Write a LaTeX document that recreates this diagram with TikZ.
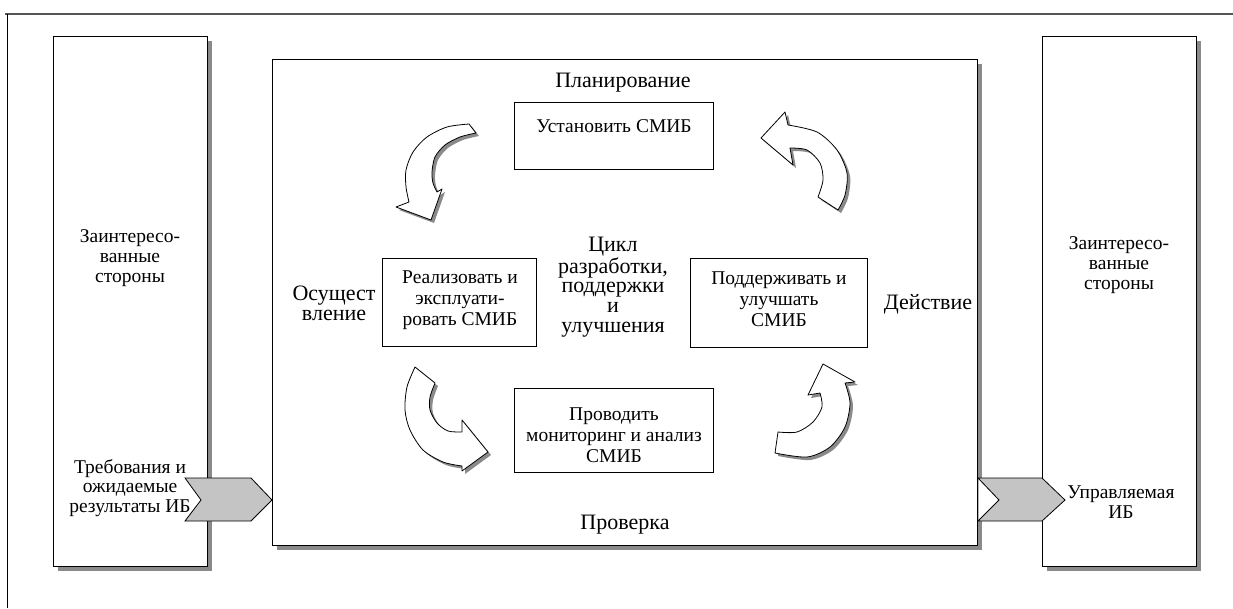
\documentclass[tikz,border=0pt]{standalone}
\usepackage{fontspec}
\setmainfont{Liberation Serif}
\usetikzlibrary{shadows}
\definecolor{shad}{HTML}{8A8A8A}
\definecolor{chev}{HTML}{C4C4C4}
\definecolor{framec}{HTML}{555555}
\newcommand\arrTL[1]{\path[#1] plot[smooth] coordinates {(469,124) (447,127) (427,137) (413,152) (406,170) (406,187) (409,202)} -- (396,207) -- (431,220) -- (442,189) -- (437,192) -- plot[smooth] coordinates {(437,192) (433,183) (432,172) (435,157) (445,145) (460,137) (476,133)} -- cycle;}
\newcommand\arrBL[1]{\path[#1] plot[smooth] coordinates {(415,367) (407,387) (405,410) (410,430) (423,450) (443,462) (462,466)} -- (462,471) -- (488,452) -- (462,420) -- (462,432) -- plot[smooth] coordinates {(462,432) (448,431) (437,423) (430,410) (430,397) (435,383)} -- cycle;}
\newcommand\arrBR[1]{\path[#1] plot[smooth] coordinates {(845,383) (850,403) (845,427) (830,447) (807,457) (775,453)} -- (778,432) -- plot[smooth] coordinates {(778,432) (797,432) (813,422) (822,407) (820,393)} -- (808,395) -- (823,364) -- (855,382) -- cycle;}
\newcommand\arrTR[1]{\path[#1] (761,138) -- (785,112) -- (788,125) -- plot[smooth] coordinates {(788,125) (817,132) (837,150) (847,173) (845,195) (838,210)} -- (818,197) -- plot[smooth] coordinates {(818,197) (823,180) (820,163) (807,150) (790,148)} -- (793,165) -- cycle;}
\begin{document}
\begin{tikzpicture}[x=1pt,y=-1pt,
  every node/.style={inner sep=0pt, outer sep=0pt},
  boxtxt/.style={align=center, font=\fontsize{19.5}{21}\selectfont},
  sidetxt/.style={align=center, font=\fontsize{19.5}{19.7}\selectfont},
  phase/.style={align=center, font=\fontsize{22}{19.7}\selectfont},
  bigbox/.style={draw=black, line width=0.9pt, fill=white, anchor=north west,
    drop shadow={shadow xshift=5pt, shadow yshift=-5pt, fill=shad, opacity=1}},
  smallbox/.style={draw=black, line width=0.9pt, fill=white, anchor=north west},
  chevron/.style={draw=black, line width=0.8pt, fill=chev, line join=miter},
  carrow/.style={draw=black, line width=0.8pt, fill=white, line join=round},
  cshadow/.style={fill=shad, shift={(3,3)}}]
\useasboundingbox (0,0) rectangle (1233,608);
% frame
\draw[framec, line width=2pt] (5,14) -- (1233,14);
\draw[black, line width=0.8pt] (7,14) -- (7,608);
% big boxes
\node[bigbox, minimum width=154pt, minimum height=530pt] (L) at (53,36) {};
\node[bigbox, minimum width=154pt, minimum height=530pt] (R) at (1042,36) {};
\node[bigbox, minimum width=705pt, minimum height=486pt] (M) at (272,59) {};
% inner boxes
\node[smallbox, minimum width=199pt, minimum height=67pt] (B1) at (514,102) {};
\node[smallbox, minimum width=154pt, minimum height=88pt] (B2) at (382,258) {};
\node[smallbox, minimum width=177pt, minimum height=89pt] (B3) at (690,258) {};
\node[smallbox, minimum width=199pt, minimum height=84pt] (B4) at (514,388) {};
% texts in boxes
\node[boxtxt] (t1) at (614,126) {Установить СМИБ};
\node[boxtxt] (t2) at (460,300) {Реализовать и\\эксплуати-\\ровать СМИБ};
\node[boxtxt] (t3) at (779,299) {Поддерживать и\\улучшать\\СМИБ};
\node[boxtxt] (t4) at (614,435) {Проводить\\мониторинг и анализ\\СМИБ};
% phase labels
\node[phase] (plan) at (623,83) {Планирование};
\node[phase] (check) at (625,525) {Проверка};
\node[phase] (do) at (334,303) {Осущест\\вление};
\node[phase] (act) at (928,304) {Действие};
\node[phase] (cyc) at (613,287) {Цикл\\разработки,\\поддержки\\и\\улучшения};
% side texts
\node[sidetxt] (lt) at (130,258) {Заинтересо-\\ванные\\стороны};
\node[sidetxt] (rt) at (1119,265) {Заинтересо-\\ванные\\стороны};
\node[sidetxt] (req) at (130,488) {Требования и\\ожидаемые\\результаты ИБ};
\node[sidetxt] (out) at (1121,502) {Управляемая\\ИБ};
% chevrons
\path[chevron] (185,478) -- (251,478) -- (272,500) -- (251,521) -- (185,521) -- (201,500) -- cycle;
\fill[white] (978.5,478) -- (999,500) -- (978.5,521) -- cycle;
\path[chevron] (978,478) -- (1042,478) -- (1065,500) -- (1042,521) -- (978,521) -- (999,500) -- cycle;
% curved arrows
\arrTL{cshadow}\arrTL{carrow}
\arrBL{cshadow}\arrBL{carrow}
\arrBR{cshadow}\arrBR{carrow}
\arrTR{cshadow}\arrTR{carrow}
\end{tikzpicture}
\end{document}
